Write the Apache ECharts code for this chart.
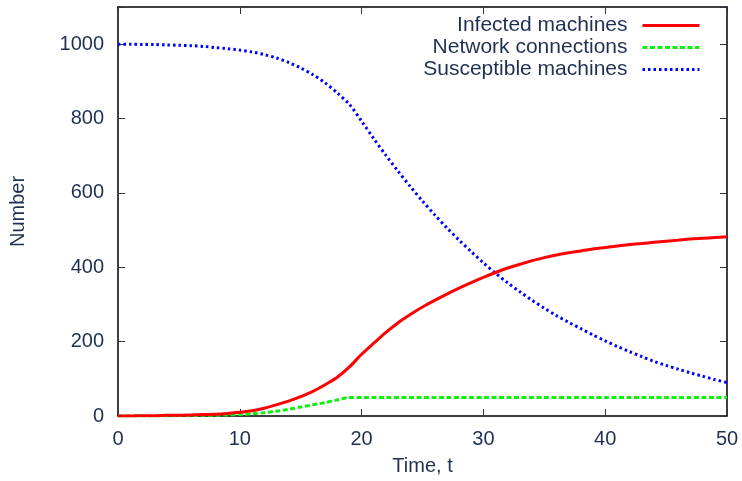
<!DOCTYPE html>
<html>
<head>
<meta charset="utf-8">
<script src="https://cdn.jsdelivr.net/npm/echarts@6/dist/echarts.min.js"></script>
<style>
  html, body { margin: 0; padding: 0; background: #fff; }
  #main { width: 742px; height: 481px; }
</style>
</head>
<body>
<div id="main"></div>
<script>
// time steps
const times = [0, 1, 2, 3, 4, 5, 6, 7, 8, 9, 10, 11, 12, 13, 14, 15, 16, 17, 18, 19, 20,
  21, 22, 23, 24, 25, 26, 27, 28, 29, 30, 31, 32, 33, 34, 35, 36, 37, 38, 39, 40,
  41, 42, 43, 44, 45, 46, 47, 48, 49, 50]

const infected = [0, 0, 1, 1, 2, 2, 3, 4, 5, 7, 10, 14, 21, 30, 40, 52, 66, 84, 104, 132, 166,
  196, 225, 251, 273, 293, 311, 328, 344, 359, 373, 386, 398, 408, 418, 426, 433, 439, 444, 449, 453,
  457, 461, 464, 467, 470, 473, 476, 478, 480, 482]

const connections = [0, 0, 0, 0, 0, 1, 1, 2, 2, 3, 4, 6, 9, 13, 18, 24, 30, 36, 43, 50, 50,
  50, 50, 50, 50, 50, 50, 50, 50, 50, 50, 50, 50, 50, 50, 50, 50, 50, 50, 50, 50,
  50, 50, 50, 50, 50, 50, 50, 50, 50, 50]

const susceptible = [1000, 1000, 999, 999, 998, 997, 996, 994, 991, 988, 984, 979, 972, 963, 951, 936, 918, 896, 869, 838, 793,
  746, 701, 658, 617, 578, 541, 506, 473, 442, 412, 384, 358, 334, 311, 290, 270, 252, 235, 218, 202,
  187, 173, 160, 147, 136, 126, 116, 107, 98, 90]

const seriesNames = ['Infected machines', 'Network connections', 'Susceptible machines']

const textColor = '#1f3050'
const font = 'Liberation Sans, Arial, Helvetica, sans-serif'

const pairs = (ys) => times.map((t, i) => [t, ys[i]])

const myChart = echarts.init(document.getElementById('main'))

const axisCommon = {
  axisLine: { show: true, onZero: false, lineStyle: { color: '#000', width: 1.5 } },
  axisTick: { show: true, inside: true, length: 7, lineStyle: { color: '#334' } },
  splitLine: { show: false },
}

// one legend per item so text is right-aligned like gnuplot's key
const legends = seriesNames.map((name, i) => ({
  data: [name],
  right: 41,
  top: 15 + i * 22,
  padding: 0,
  align: 'right',
  itemWidth: 57,
  itemHeight: 14,
  selectedMode: false,
  itemStyle: { color: 'rgba(0,0,0,0)', borderColor: 'rgba(0,0,0,0)', borderWidth: 0 },
  lineStyle: { width: 3 },
  textStyle: { color: textColor, fontSize: 21, fontFamily: font, padding: [0, 10, 0, 0] },
}))

const option = {
  animation: false,
  backgroundColor: '#fff',
  grid: { left: 116, right: 15, top: 7, bottom: 64 },
  legend: legends,
  xAxis: [
    {
      ...axisCommon,
      type: 'value',
      min: 0,
      max: 50,
      interval: 10,
      position: 'bottom',
      name: 'Time, t',
      nameLocation: 'middle',
      nameGap: 40,
      nameTextStyle: { color: textColor, fontSize: 20, fontFamily: font },
      axisLabel: { color: textColor, fontSize: 20, fontFamily: font, margin: 13 },
    },
    {
      ...axisCommon,
      type: 'value',
      min: 0,
      max: 50,
      interval: 10,
      position: 'top',
      axisLabel: { show: false },
    },
  ],
  yAxis: [
    {
      ...axisCommon,
      type: 'value',
      min: 0,
      max: 1100,
      interval: 200,
      position: 'left',
      name: 'Number',
      nameLocation: 'middle',
      nameGap: 90,
      nameTextStyle: { color: textColor, fontSize: 20, fontFamily: font },
      axisLabel: {
        color: textColor,
        fontSize: 20,
        fontFamily: font,
        margin: 14,
        formatter: (v) => (v > 1000 ? '' : v),
      },
    },
    {
      ...axisCommon,
      type: 'value',
      min: 0,
      max: 1100,
      interval: 200,
      position: 'right',
      axisLabel: { show: false },
    },
  ],
  series: [
    {
      name: seriesNames[0],
      type: 'line',
      data: pairs(infected),
      smooth: 0.3,
      showSymbol: false,
      symbol: 'none',
      z: 3,
      lineStyle: { color: '#ff0000', width: 3 },
      itemStyle: { color: '#ff0000' },
    },
    {
      name: seriesNames[1],
      type: 'line',
      data: pairs(connections),
      smooth: 0.3,
      showSymbol: false,
      symbol: 'none',
      z: 2,
      lineStyle: { color: '#11ee11', width: 3, type: [5, 2.5] },
      itemStyle: { color: '#11ee11' },
    },
    {
      name: seriesNames[2],
      type: 'line',
      data: pairs(susceptible),
      smooth: 0.3,
      showSymbol: false,
      symbol: 'none',
      z: 2,
      lineStyle: { color: '#0000ff', width: 3, type: [2.5, 3] },
      itemStyle: { color: '#0000ff' },
    },
  ],
}

option && myChart.setOption(option)
</script>
</body>
</html>
